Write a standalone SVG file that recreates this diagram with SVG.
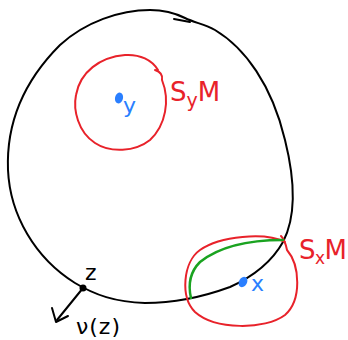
<svg xmlns="http://www.w3.org/2000/svg" width="348" height="340" viewBox="0 0 348 340">
<style>
.stroke{fill:none;stroke-linecap:round;stroke-linejoin:round}
.blk{stroke:#000;stroke-width:2}
.red{stroke:#e8222a;stroke-width:2}
.grn{stroke:#1aa320;stroke-width:2.5}
.t{font-family:"DejaVu Sans","Liberation Sans",sans-serif}
.tr{fill:#e8222a;font-size:26px}
.tb{fill:#2a7fff;font-size:22px}
.tk{fill:#000;font-size:22px}
</style>
<rect width="348" height="340" fill="#fff"/>
<g id="manifold">
<path class="stroke blk" d="M150,10 C165,10 175,13 185,18 C195,23 205,24 215,30 C245,48 272,85 285,140 C295,180 297,215 283,242 C270,265 250,278 230,287 C200,298 170,303 145,303 C115,302 95,295 75,283 C35,258 10,215 8,170 C6,120 25,80 60,45 C85,22 120,10 150,10 Z"/>
<path class="stroke blk" d="M174,19 L190,22"/>
</g>
<g id="SyM">
<path class="stroke red" d="M155,70 C161,72 163,75 162,80 C170,100 166,125 150,140 C135,152 110,153 95,143 C78,132 73,110 76,95 C80,72 100,57 125,55 C140,54 152,60 158,70"/>
<text class="t tr" x="170" y="101">S<tspan font-size="19" dy="6">y</tspan><tspan dy="-6">M</tspan></text>
</g>
<g id="y">
<ellipse cx="119" cy="98" rx="4" ry="5.5" fill="#2a7fff" transform="rotate(15 119 98)"/>
<text class="t tb" x="123" y="113">y</text>
</g>
<g id="SxM">
<path class="stroke red" d="M281,236 C285,240 286,245 287,250 C300,265 302,300 285,315 C265,330 215,330 195,312 C180,297 183,262 200,250 C220,236 265,232 285,242"/>
<path class="stroke grn" d="M191,298 C188,285 190,272 200,262 C215,250 240,240 283,240"/>
<text class="t tr" font-size="23" x="299" y="259" letter-spacing="-0.5">S<tspan font-size="17" dy="5">x</tspan><tspan dy="-5">M</tspan></text>
</g>
<g id="x">
<ellipse cx="243" cy="282" rx="4" ry="5.5" fill="#2a7fff" transform="rotate(30 243 282)"/>
<text class="t tb" x="251" y="291">x</text>
</g>
<g id="z">
<circle cx="83" cy="288" r="3.5" fill="#000"/>
<text class="t tk" font-size="24" x="85" y="280">z</text>
</g>
<g id="connectors">
<path class="stroke blk" d="M83,288 L57,320"/>
<path class="stroke blk" d="M52,308 L56,322 L68,316"/>
<text class="t tk" x="76" y="334" letter-spacing="1">ν(z)</text>
</g>
</svg>
